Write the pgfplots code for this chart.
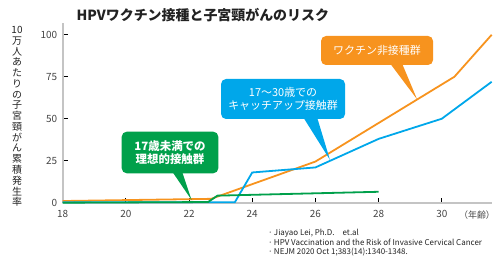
\documentclass[border=0pt]{standalone}
\usepackage{fontspec}
\setmainfont{Noto Sans CJK JP}
\usepackage{pgfplots}
\pgfplotsset{compat=1.18}
\definecolor{cOr}{HTML}{F7931E}
\definecolor{cBl}{HTML}{00A7EA}
\definecolor{cGr}{HTML}{00A04B}
\definecolor{axgray}{HTML}{C4C4C4}
\definecolor{tkgray}{HTML}{444444}
\definecolor{ttl}{HTML}{222222}
\begin{document}
\begin{tikzpicture}
\useasboundingbox (0,0) rectangle (496bp,-256bp);
\begin{axis}[
 at={(62.7bp,-202.7bp)}, anchor=south west,
 scale only axis, width=429bp, height=179.7bp,
 xmin=18, xmax=31.58, ymin=0, ymax=107,
 axis x line=bottom, axis y line=left,
 axis line style={draw=axgray, line width=2.2bp, -},
 xtick={18,20,...,30}, ytick={0,25,50,75,100},
 tick style={black, line width=0.8bp},
 major tick length=5bp,
 tick align=inside,
 ticklabel style={font=\fontsize{10}{10}\selectfont, text=tkgray},
 xticklabel style={yshift=-4bp},
 yticklabel style={xshift=-2bp},
 /pgf/number format/assume math mode=true,
 clip=false,
]
\addplot[cOr, line width=1.8bp] coordinates {(18,1) (22.7,2.3) (26,24.5) (30.4,75) (31.58,100)};
\addplot[cBl, line width=1.8bp] coordinates {(18,0.3) (23.45,0.3) (24,18) (26,21) (28,38) (30,50) (31.58,72)};
\addplot[cGr, line width=1.8bp] coordinates {(18,0) (22.6,0.4) (22.9,4.2) (28,6.5)};
% callouts
\fill[cOr] (axis cs:28.36,83) -- (axis cs:29.22,61.5) -- (axis cs:28.74,83) -- cycle;
\node[fill=cOr, rounded corners=5bp, minimum width=112bp, minimum height=29bp, inner sep=0pt, text=white, font=\fontsize{11}{13}\selectfont] at (axis cs:27.95,90.63) {ワクチン非接種群};
\fill[cBl] (axis cs:25.61,51) -- (axis cs:26.46,25.5) -- (axis cs:26.05,51) -- cycle;
\node[fill=cBl, rounded corners=5bp, minimum width=124bp, minimum height=40bp, inner sep=0pt, text=white, align=center, font=\fontsize{11}{12.7}\selectfont] at (axis cs:24.975,61.75) {17～30歳での\\キャッチアップ接触群};
\fill[cGr] (axis cs:21.45,19) -- (axis cs:22.08,1.6) -- (axis cs:21.77,19) -- cycle;
\node[fill=cGr, rounded corners=5bp, minimum width=96.6bp, minimum height=41.6bp, inner sep=0pt, text=white, align=center, font=\bfseries\fontsize{11.5}{13.3}\selectfont] at (axis cs:21.397,29.9) {17歳未満での\\理想的接触群};
\end{axis}
\node[anchor=west, text=ttl, font=\bfseries\fontsize{14}{14}\selectfont] at (73bp,-15bp) {HPVワクチン接種と子宮頸がんのリスク};
\node[align=center, text=ttl, inner sep=0pt, font=\fontsize{10}{10.8}\selectfont] at (17bp,-116.5bp) {10\\万\\人\\あ\\た\\り\\の\\子\\宮\\頸\\が\\ん\\累\\積\\発\\生\\率};
\node[text=tkgray, font=\fontsize{9}{9}\selectfont, inner sep=0pt] at (477bp,-215bp) {（年齢）};
\begin{scope}[every node/.style={anchor=base west, inner sep=0pt, text=ttl, font=\fontsize{8}{8}\selectfont}]
\node at (268bp,-235.5bp) {·\,Jiayao Lei, Ph.D.\quad et.al};
\node at (268bp,-245.2bp) {·\,HPV Vaccination and the Risk of Invasive Cervical Cancer};
\node at (268bp,-254.2bp) {·\,NEJM 2020 Oct 1;383(14):1340-1348.};
\end{scope}
\end{tikzpicture}
\end{document}
